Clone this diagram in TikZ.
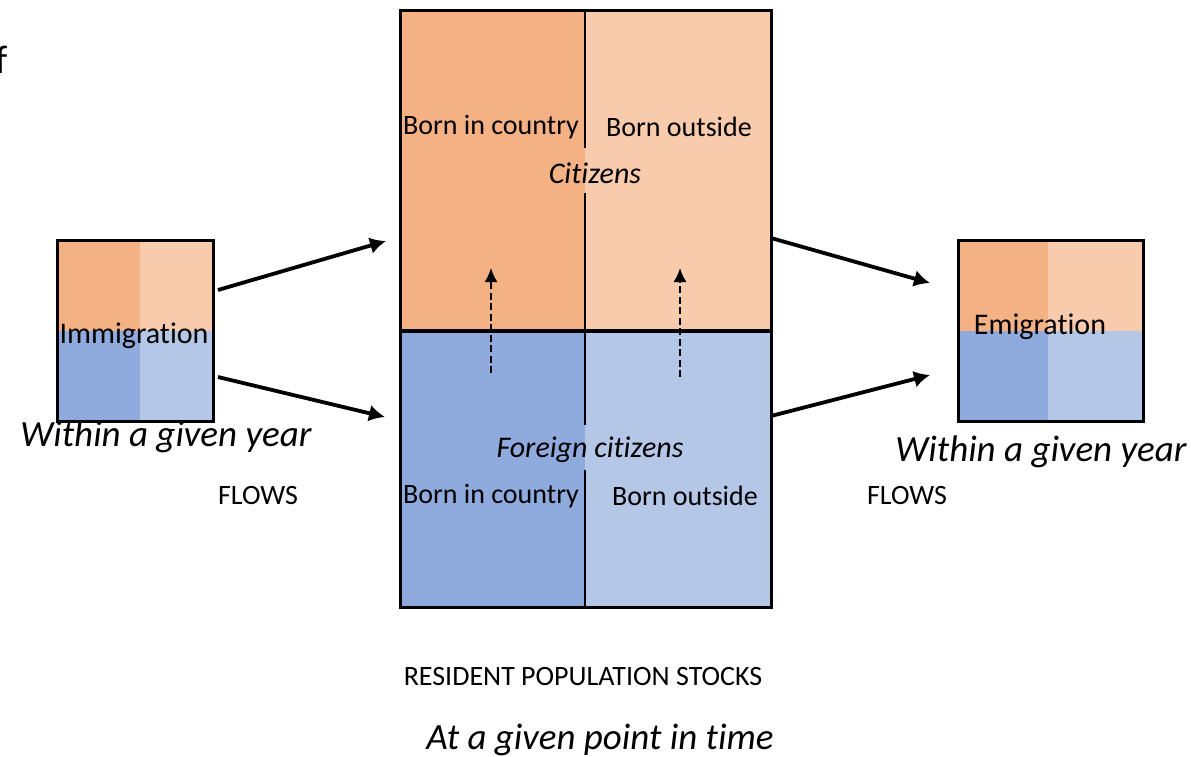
\documentclass[tikz,border=0pt]{standalone}
\usepackage{fontspec}
\setmainfont{Carlito}[Ligatures=NoCommon]
\usepackage{tikz}
\usetikzlibrary{arrows.meta}
\usetikzlibrary{calc}
\definecolor{citborn}{HTML}{F4B183}
\definecolor{citout}{HTML}{F8CBAD}
\definecolor{forborn}{HTML}{8FAADC}
\definecolor{forout}{HTML}{B4C7E7}

\begin{document}
\begin{tikzpicture}[
    x=1pt, y=-1pt,
    box line/.style={line width=3pt},
    split line/.style={line width=1.8pt},
    flow arrow/.style={-{Latex[length=16pt,width=17pt]}, line width=3.8pt},
    dashed arrow/.style={-{Latex[length=14pt,width=13pt]}, dash pattern=on 7pt off 3.5pt, line width=1.8pt},
    every node/.style={color=black, inner sep=0pt, font=\fontsize{28}{33}\selectfont},
    group text/.style={font=\fontsize{30}{36}\selectfont\itshape},
    period text/.style={font=\fontsize{37}{44}\selectfont\itshape}
    ]
    \useasboundingbox (0,0) rectangle (1191,756);

    % stock box
    \coordinate (S1) at (400,10);
    \coordinate (S2) at (771,607);
    \fill[citborn] (400,10) rectangle (585,331);
    \fill[citout] (585,10) rectangle (771,331);
    \fill[forborn] (400,331) rectangle (585,607);
    \fill[forout] (585,331) rectangle (771,607);
    \draw[split line] (585,10) -- (585,148);
    \draw[split line] (585,193) -- (585,425);
    \draw[split line] (585,470) -- (585,607);
    \draw[line width=4.5pt] (400,331) -- (771,331);
    \draw[box line] (S1) rectangle (S2);

    % immigration box
    \coordinate (I1) at (57,240);
    \coordinate (I2) at (213,421);
    \fill[citborn] (57,240) rectangle (140,331);
    \fill[citout] (140,240) rectangle (213,331);
    \fill[forborn] (57,331) rectangle (140,421);
    \fill[forout] (140,331) rectangle (213,421);
    \draw[box line] (I1) rectangle (I2);

    % emigration box
    \coordinate (E1) at (958,240);
    \coordinate (E2) at (1143,421);
    \fill[citborn] (958,240) rectangle (1048,331);
    \fill[citout] (1048,240) rectangle (1143,331);
    \fill[forborn] (958,331) rectangle (1048,421);
    \fill[forout] (1048,331) rectangle (1143,421);
    \draw[box line] (E1) rectangle (E2);

    % labels
    \node[font=\fontsize{30}{36}\selectfont] (imm) at (134,336) {Immigration};
    \node[font=\fontsize{30}{36}\selectfont] (emi) at (1040,327) {Emigration};
    \node (cb) at (491,127) {Born in country};
    \node (co) at (679,127) {Born outside};
    \node[group text] (cit) at (595,173) {Citizens};
    \node[group text] (for) at (590,450) {Foreign citizens};
    \node (fb) at (491,496) {Born in country};
    \node (fo) at (685,496) {Born outside};
    \node[period text] (yearl) at (166,437) {Within a given year};
    \node[period text] (yearr) at (1041,452) {Within a given year};
    \node (flowl) at (258,496) {FLOWS};
    \node (flowr) at (907,496) {FLOWS};
    \node (stock) at (583,677) {RESIDENT POPULATION STOCKS};
    \node[period text] (point) at (600,740) {At a given point in time};
    \node[font=\fontsize{40}{48}\selectfont, anchor=base west] (cut) at (-5,73) {f};

    % flows
    \coordinate (a1) at (218,290);
    \coordinate (a2) at (386,241);
    \coordinate (b1) at (218,377);
    \coordinate (b2) at (385,417);
    \coordinate (c1) at (771,238);
    \coordinate (c2) at (930,283);
    \coordinate (d1) at (771,416);
    \coordinate (d2) at (930,375);
    \draw[flow arrow] (a1) -- (a2);
    \draw[flow arrow] (b1) -- (b2);
    \draw[flow arrow] (c1) -- (c2);
    \draw[flow arrow] (d1) -- (d2);

    % acquisition of citizenship
    \coordinate (n1) at (491,373);
    \coordinate (n2) at (491,268);
    \coordinate (m1) at (680,377);
    \coordinate (m2) at (680,268);
    \draw[dashed arrow] (n1) -- (n2);
    \draw[dashed arrow] (m1) -- (m2);
\end{tikzpicture}
\end{document}
